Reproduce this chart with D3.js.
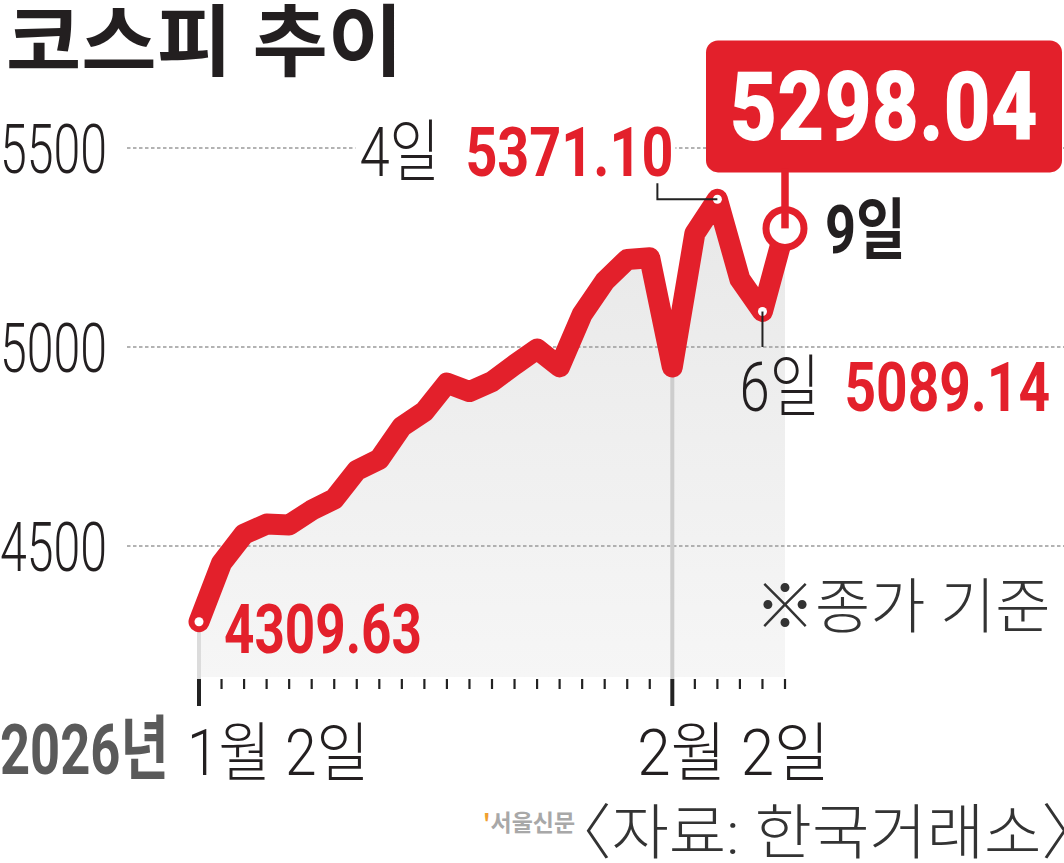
<!DOCTYPE html>
<html><head><meta charset="utf-8">
<script src="https://cdn.jsdelivr.net/npm/d3@7"></script>
<style>body{margin:0;background:#fff}svg{display:block}</style>
</head><body>
<script>
// ---- data ----
const dates = ["1/2","1/5","1/6","1/7","1/8","1/9","1/12","1/13","1/14","1/15","1/16",
  "1/19","1/20","1/21","1/22","1/23","1/26","1/27","1/28","1/29","1/30",
  "2/2","2/3","2/4","2/5","2/6","2/9"];
const kospi = [4309.63, 4457, 4530, 4555, 4553, 4590, 4618, 4690, 4718, 4800, 4838,
  4909, 4888, 4913, 4955, 4995, 4950, 5082, 5165, 5220, 5224,
  4950, 5285, 5371.10, 5170, 5089.14, 5298.04];
const yTicks = [4500, 5000, 5500];
const yTickLabels = ["4500", "5000", "5500"];
const majorDates = ["1/2", "2/2"];
const majorLabels = ["1월 2일", "2월 2일"];
const yearLabel = "2026년";
const titleText = "코스피 추이";
const noteText = "※종가 기준";
const sourceText = "〈자료: 한국거래소〉";
const brandText = "서울신문";
const highDate = "2/4", highLabel = "4일", highValue = "5371.10";
const lowDate = "2/6", lowLabel = "6일", lowValue = "5089.14";
const lastDate = "2/9", lastLabel = "9일", lastValue = "5298.04";
const firstDate = "1/2", firstValue = "4309.63";

// ---- setup ----
const W = 1064, H = 863;
const RED = "#e3202b", DARK = "#231f20";
const NUM = "Roboto, 'Liberation Sans', sans-serif";
const KR = "'Noto Sans CJK KR', 'Noto Sans', sans-serif";
const svg = d3.select("body").append("svg").attr("width", W).attr("height", H);

const x = d3.scalePoint().domain(dates).range([199, 785]);
const y = d3.scaleLinear().domain([4500, 5500]).range([546, 148]);
const axisTop = 679, areaBottom = 677;

// text helper: splits into Korean / number runs, applies horizontal scaling
function label(g, px, py, str, o) {
  const t = g.append("text")
    .attr("transform", `translate(${px},${py}) scale(${o.sx || 1},1)`)
    .attr("text-anchor", o.anchor || "start")
    .attr("font-size", o.size).attr("fill", o.fill || DARK);
  const runs = str.split(/([\uAC00-\uD7A3\u3008\u3009\u203B]+)/).filter(s => s.length);
  runs.forEach(r => {
    const kr = /[\uAC00-\uD7A3\u3008\u3009\u203B]/.test(r);
    t.append("tspan").text(r)
      .attr("font-family", kr ? KR : NUM)
      .attr("font-weight", kr ? (o.kw || o.w || 400) : (o.w || 400));
  });
  return t;
}

// gradient for area
const defs = svg.append("defs");
const grad = defs.append("linearGradient").attr("id", "ag").attr("x1", 0).attr("y1", 0).attr("x2", 0).attr("y2", 1);
grad.append("stop").attr("offset", "0%").attr("stop-color", "#e8e8e8");
grad.append("stop").attr("offset", "100%").attr("stop-color", "#f6f6f6");

// title
label(svg, 6, 70, titleText, {size: 78, w: 700, sx: 1.05, fill: DARK});

// area
const area = d3.area().x((d, i) => x(dates[i])).y0(areaBottom).y1(d => y(d));
svg.append("path").datum(kospi).attr("d", area).attr("fill", "url(#ag)");

// gridlines
svg.append("g").selectAll("line").data(yTicks).join("line")
  .attr("x1", 127).attr("x2", W).attr("y1", d => y(d)).attr("y2", d => y(d))
  .attr("stroke", "#9a9a9a").attr("stroke-width", 1.6).attr("stroke-dasharray", "3.5,2.5");
// y tick labels
yTicks.forEach((t, i) => label(svg, 0, y(t) + 25, yTickLabels[i], {size: 68, w: 300, sx: 0.71, fill: DARK}));

// vertical gray guides
const iFirst = dates.indexOf(firstDate), iFeb = dates.indexOf("2/2");
svg.append("line").attr("x1", x(firstDate)).attr("x2", x(firstDate))
  .attr("y1", y(kospi[iFirst])).attr("y2", axisTop).attr("stroke", "#dcdcdc").attr("stroke-width", 4);
svg.append("line").attr("x1", x("2/2")).attr("x2", x("2/2"))
  .attr("y1", y(kospi[iFeb])).attr("y2", axisTop).attr("stroke", "#cdcdcd").attr("stroke-width", 4);

// ticks
svg.append("g").selectAll("line").data(dates).join("line")
  .attr("x1", d => x(d)).attr("x2", d => x(d))
  .attr("y1", axisTop).attr("y2", d => majorDates.includes(d) ? 706 : 689)
  .attr("stroke", "#222").attr("stroke-width", d => majorDates.includes(d) ? 4 : 2.2);

// x labels
label(svg, 0, 774, yearLabel, {size: 70, w: 700, sx: 0.75, fill: "#5a5a5a"});
label(svg, x(majorDates[0]) - 12, 775, majorLabels[0], {size: 64, w: 300, sx: 0.89, fill: DARK});
label(svg, x(majorDates[1]) - 35, 775, majorLabels[1], {size: 64, w: 300, sx: 0.94, fill: DARK});

// white backing for the high label over the 5500 gridline
const hx = x(highDate), hy = y(kospi[dates.indexOf(highDate)]);
svg.append("rect").attr("x", hx - 362).attr("y", hy - 60).attr("width", 320).attr("height", 60).attr("fill", "#fff");

// red line
const line = d3.line().x((d, i) => x(dates[i])).y(d => y(d));
svg.append("path").datum(kospi).attr("d", line).attr("fill", "none")
  .attr("stroke", RED).attr("stroke-width", 21).attr("stroke-linejoin", "round").attr("stroke-linecap", "round");

// small markers
[firstDate, highDate, lowDate].forEach(d => {
  svg.append("circle").attr("cx", x(d)).attr("cy", y(kospi[dates.indexOf(d)])).attr("r", 4.5).attr("fill", "#fff");
});

// first label
const fx = x(firstDate), fy = y(kospi[iFirst]);
label(svg, fx + 25, fy + 31, firstValue, {size: 68, w: 700, sx: 0.78, fill: RED});

// high label + leader
svg.append("path").attr("d", `M${hx - 60},${hy - 16} V${hy} H${hx}`).attr("fill", "none")
  .attr("stroke", "#222").attr("stroke-width", 2);
label(svg, hx - 358, hy - 23, highLabel, {size: 68, w: 300, sx: 0.8, fill: DARK});
label(svg, hx - 252, hy - 23, highValue, {size: 68, w: 700, sx: 0.82, fill: RED});

// low label + leader
const lx = x(lowDate), ly = y(kospi[dates.indexOf(lowDate)]);
svg.append("line").attr("x1", lx).attr("x2", lx).attr("y1", ly).attr("y2", y(5000))
  .attr("stroke", "#222").attr("stroke-width", 2);
label(svg, lx - 23, ly + 99, lowLabel, {size: 68, w: 300, sx: 0.8, fill: DARK});
label(svg, lx + 82, ly + 99, lowValue, {size: 68, w: 700, sx: 0.81, fill: RED});

// last value box
const zx = x(lastDate), zy = y(kospi[dates.indexOf(lastDate)]);
svg.append("rect").attr("x", zx - 79).attr("y", zy - 188).attr("width", 356).attr("height", 132)
  .attr("rx", 12).attr("fill", RED);
label(svg, zx + 99, zy - 88, lastValue, {size: 97, w: 900, sx: 0.84, anchor: "middle", fill: "#fff"});
svg.append("circle").attr("cx", zx).attr("cy", zy).attr("r", 19).attr("fill", "#fff")
  .attr("stroke", RED).attr("stroke-width", 7);
svg.append("line").attr("x1", zx).attr("x2", zx).attr("y1", zy - 60).attr("y2", zy)
  .attr("stroke", RED).attr("stroke-width", 7.5);
label(svg, zx + 40, zy + 25, lastLabel, {size: 66, w: 700, sx: 0.82, fill: DARK});

// note
label(svg, 755, 628, noteText, {size: 60, w: 300, fill: "#333"});

// footer
const br = svg.append("text").attr("x", 483).attr("y", 831).attr("font-family", KR).attr("font-weight", 700)
  .attr("font-size", 23).attr("fill", "#a8a8a8");
br.append("tspan").text("'").attr("fill", "#f0a030");
br.append("tspan").text(brandText);
label(svg, 549, 854, sourceText, {size: 60, w: 300, sx: 1.04, fill: "#333"});
</script>
</body></html>
